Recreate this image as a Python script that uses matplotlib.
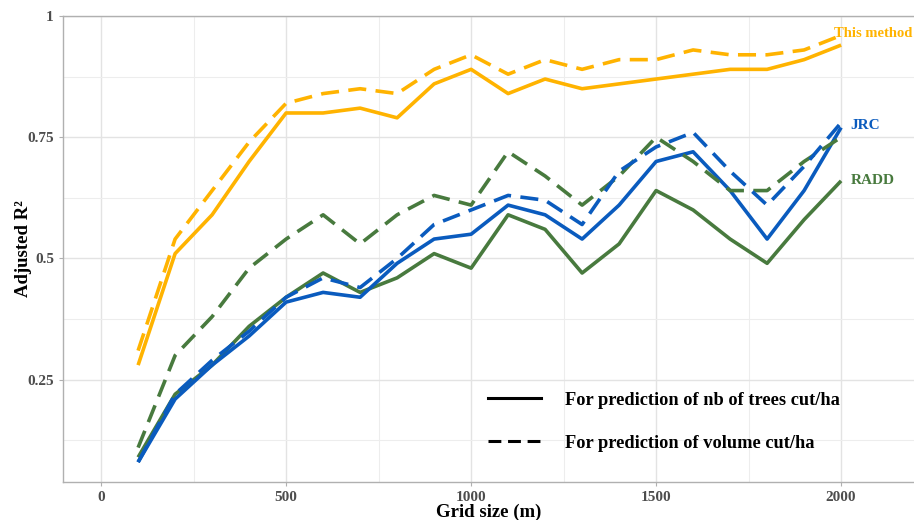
import matplotlib
matplotlib.use("Agg")
import matplotlib.pyplot as plt
from matplotlib.lines import Line2D

plt.rcParams['font.family'] = ['Liberation Serif', 'DejaVu Serif']
plt.rcParams['font.weight'] = 'bold'

grid_size = [100, 200, 300, 400, 500, 600, 700, 800, 900, 1000,
             1100, 1200, 1300, 1400, 1500, 1600, 1700, 1800, 1900, 2000]

this_trees = [0.28, 0.51, 0.59, 0.70, 0.80, 0.80, 0.81, 0.79, 0.86, 0.89,
              0.84, 0.87, 0.85, 0.86, 0.87, 0.88, 0.89, 0.89, 0.91, 0.94]
this_volume = [0.31, 0.54, 0.64, 0.74, 0.82, 0.84, 0.85, 0.84, 0.89, 0.92,
               0.88, 0.91, 0.89, 0.91, 0.91, 0.93, 0.92, 0.92, 0.93, 0.96]
jrc_trees = [0.08, 0.21, 0.28, 0.34, 0.41, 0.43, 0.42, 0.49, 0.54, 0.55,
             0.61, 0.59, 0.54, 0.61, 0.70, 0.72, 0.64, 0.54, 0.64, 0.77]
jrc_volume = [0.08, 0.22, 0.29, 0.35, 0.42, 0.46, 0.44, 0.50, 0.57, 0.60,
              0.63, 0.62, 0.57, 0.68, 0.73, 0.76, 0.68, 0.61, 0.69, 0.78]
radd_trees = [0.09, 0.22, 0.28, 0.36, 0.42, 0.47, 0.43, 0.46, 0.51, 0.48,
              0.59, 0.56, 0.47, 0.53, 0.64, 0.60, 0.54, 0.49, 0.58, 0.66]
radd_volume = [0.11, 0.30, 0.38, 0.48, 0.54, 0.59, 0.53, 0.59, 0.63, 0.61,
               0.72, 0.67, 0.61, 0.67, 0.75, 0.70, 0.64, 0.64, 0.70, 0.75]

c_this = '#FFB300'
c_jrc = '#0A5BBE'
c_radd = '#487A3E'

fig = plt.figure(figsize=(9.14, 5.2), dpi=100)
ax = fig.add_axes([63/914, 1 - 482/520, (914-63)/914, (482-16)/520])

lw = 2.6
dash = (0, (5, 2.6))
for vals, c in [(radd_trees, c_radd), (jrc_trees, c_jrc), (this_trees, c_this)]:
    ax.plot(grid_size, vals, color=c, lw=lw, solid_capstyle='butt', zorder=3)
for vals, c in [(radd_volume, c_radd), (jrc_volume, c_jrc), (this_volume, c_this)]:
    ax.plot(grid_size, vals, color=c, lw=lw, linestyle=dash, dash_capstyle='butt', zorder=3)

ax.set_xlim(-103, 2197)
ax.set_ylim(0.039, 1.0)
ax.set_xticks([0, 500, 1000, 1500, 2000])
ax.set_xticks([250, 750, 1250, 1750], minor=True)
ax.set_yticks([0.25, 0.5, 0.75, 1.0])
ax.set_yticklabels(['0.25', '0.5', '0.75', '1'])
ax.set_yticks([0.125, 0.375, 0.625, 0.875], minor=True)

ax.grid(True, which='major', color='#E3E3E3', lw=1.0, zorder=0)
ax.grid(True, which='minor', color='#EDEDED', lw=0.8, zorder=0)
ax.set_axisbelow(True)

for s in ['left', 'top', 'bottom']:
    ax.spines[s].set_color('#B0B0B0')
    ax.spines[s].set_linewidth(1.0)
ax.spines['right'].set_visible(False)

ax.tick_params(which='major', length=3, color='#B0B0B0', labelcolor='#4D4D4D', labelsize=11)
ax.tick_params(which='minor', length=0)
for t in ax.get_xticklabels() + ax.get_yticklabels():
    t.set_fontweight('bold')

ax.set_xlabel('Grid size (m)', fontsize=13.5, fontweight='bold', color='black', labelpad=0)
ax.set_ylabel('Adjusted R²', fontsize=13.5, fontweight='bold', color='black', labelpad=-3)

ax.text(1981, 0.963, 'This method', color=c_this, fontsize=10.5, fontweight='bold', va='center', ha='left')
ax.text(2025, 0.775, 'JRC', color=c_jrc, fontsize=11, fontweight='bold', va='center', ha='left')
ax.text(2025, 0.660, 'RADD', color=c_radd, fontsize=11, fontweight='bold', va='center', ha='left')

handles = [Line2D([], [], color='black', lw=2.2),
           Line2D([], [], color='black', lw=2.2, linestyle=(0, (4.2, 2.2)))]
leg = ax.legend(handles, ['For prediction of nb of trees cut/ha', 'For prediction of volume cut/ha'],
                loc='lower left', bbox_to_anchor=(0.48, 0.03), frameon=False,
                handlelength=2.9, handletextpad=1.3, labelspacing=1.4,
                prop={'weight': 'bold', 'size': 13.2})

fig.savefig('out.png', dpi=100)
